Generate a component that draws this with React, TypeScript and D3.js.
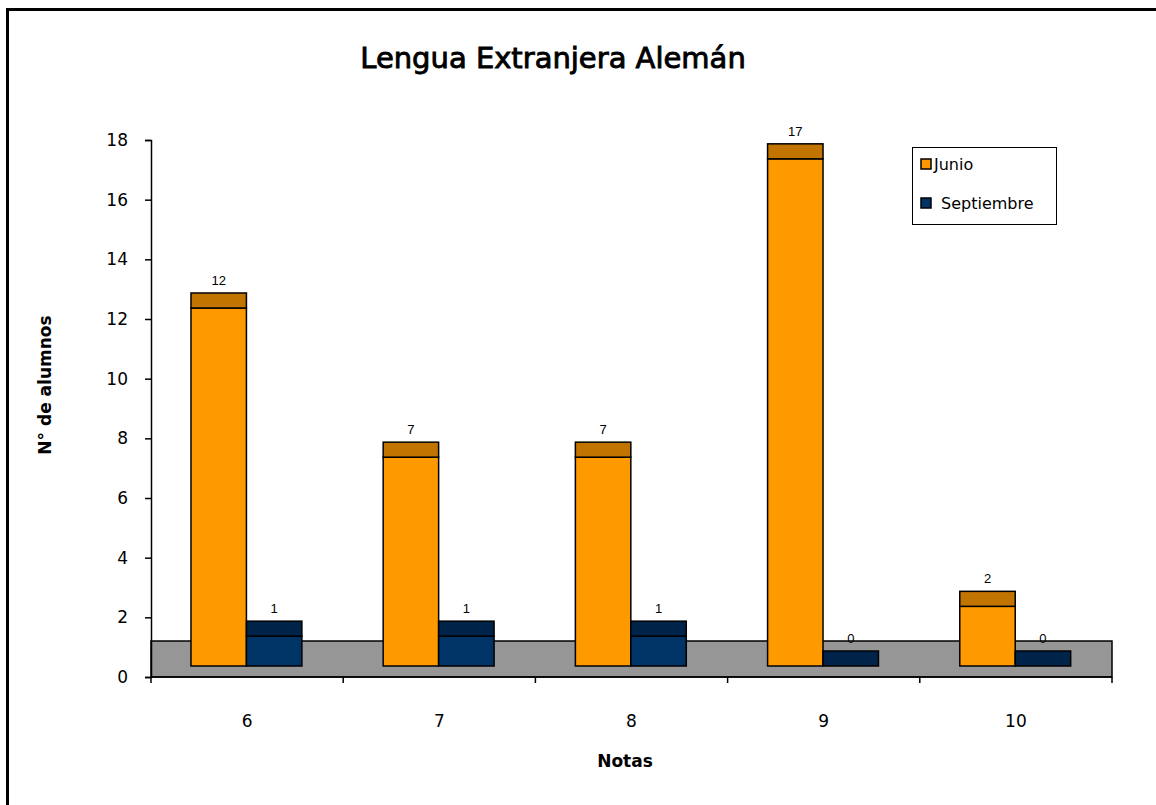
import { useRef, useEffect } from "react";
import * as d3 from "d3";

const categories = ["6", "7", "8", "9", "10"];
const series = ["Junio", "Septiembre"];
const junio = [12, 7, 7, 17, 2];
const septiembre = [1, 1, 1, 0, 0];
const yTicks = [0, 2, 4, 6, 8, 10, 12, 14, 16, 18];

const frontColors = ["#FF9900", "#003366"];
const topColors = ["#C27400", "#00234A"];

export default function App() {
  const svgRef = useRef<SVGSVGElement>(null);

  useEffect(() => {
    if (!svgRef.current) return;
    const width = 1156;
    const height = 805;
    const svg = d3.select(svgRef.current);
    svg.selectAll("*").remove();
    svg.attr("width", width).attr("height", height);

    const font = "'DejaVu Sans', Verdana, sans-serif";

    // outer frame
    svg.append("rect").attr("x", 7.5).attr("y", 9.5).attr("width", width + 10).attr("height", height + 10)
      .attr("fill", "#fff").attr("stroke", "#000").attr("stroke-width", 3);

    const x = d3.scaleBand<string>().domain(categories).range([151, 1112]);
    const bw = x.bandwidth();
    const xInner = d3.scaleBand<string>().domain(series).range([bw * 0.208, bw * 0.785]);
    const y = d3.scaleLinear().domain([0, 18]).range([677, 140]);

    const floorTop = 641;
    const frontBase = y(0) - 11;
    const depth = 15;

    // floor
    svg.append("rect").attr("x", 151).attr("y", floorTop).attr("width", 1112 - 151).attr("height", y(0) - floorTop)
      .attr("fill", "#969696").attr("stroke", "#000").attr("stroke-width", 1.5);

    // y axis
    svg.append("g")
      .attr("transform", "translate(151,0)")
      .call(d3.axisLeft(y).tickValues(yTicks).tickSize(6).tickPadding(17).tickFormat(d3.format("d")))
      .call((g) => g.select(".domain").attr("stroke", "#000").attr("stroke-width", 1.5))
      .call((g) => g.selectAll(".tick line").attr("stroke", "#000").attr("stroke-width", 1.5))
      .call((g) => g.selectAll(".tick text").attr("font-family", font).attr("font-size", 17).attr("fill", "#000"));

    // x axis
    const xg = svg.append("g").attr("transform", `translate(0,${y(0)})`);
    xg.append("line").attr("x1", 151).attr("x2", 1112).attr("stroke", "#000").attr("stroke-width", 1.5);
    [...categories.map((c) => x(c)!), 1112].forEach((px) => {
      xg.append("line").attr("x1", px).attr("x2", px).attr("y1", 0).attr("y2", 6)
        .attr("stroke", "#000").attr("stroke-width", 1.5);
    });
    categories.forEach((c) => {
      xg.append("text").attr("x", x(c)! + bw / 2).attr("y", 50).attr("text-anchor", "middle")
        .attr("font-family", font).attr("font-size", 17).attr("fill", "#000").text(c);
    });

    // bars
    const data = [junio, septiembre];
    series.forEach((s, si) => {
      data[si].forEach((v, ci) => {
        const x0 = x(categories[ci])! + xInner(s)!;
        const w = xInner.bandwidth();
        const frontTop = frontBase - (y(0) - y(v));
        const g = svg.append("g");
        if (v > 0) {
          g.append("rect").attr("x", x0).attr("y", frontTop).attr("width", w).attr("height", frontBase - frontTop)
            .attr("fill", frontColors[si]).attr("stroke", "#000").attr("stroke-width", 1.5);
        }
        g.append("rect").attr("x", x0).attr("y", frontTop - depth).attr("width", w).attr("height", depth)
          .attr("fill", topColors[si]).attr("stroke", "#000").attr("stroke-width", 1.5);
        g.append("text").attr("x", x0 + w / 2).attr("y", frontTop - depth - 8).attr("text-anchor", "middle")
          .attr("font-family", "'Liberation Sans', Arial, sans-serif").attr("font-size", 13).attr("fill", "#000")
          .text(v);
      });
    });

    // title
    svg.append("text").attr("x", 553).attr("y", 68).attr("text-anchor", "middle")
      .attr("font-family", font).attr("font-size", 29).attr("fill", "#000")
      .attr("stroke", "#000").attr("stroke-width", 0.9)
      .text("Lengua Extranjera Alemán");

    // axis titles
    svg.append("text").attr("transform", "translate(51,385) rotate(-90)").attr("text-anchor", "middle")
      .attr("font-family", font).attr("font-weight", "bold").attr("font-size", 17).attr("fill", "#000")
      .text("N° de alumnos");
    svg.append("text").attr("x", 625).attr("y", 767).attr("text-anchor", "middle")
      .attr("font-family", font).attr("font-weight", "bold").attr("font-size", 17).attr("fill", "#000")
      .text("Notas");

    // legend
    const lg = svg.append("g").attr("transform", "translate(912,147)");
    lg.append("rect").attr("x", 0.5).attr("y", 0.5).attr("width", 144).attr("height", 77)
      .attr("fill", "#fff").attr("stroke", "#000").attr("stroke-width", 1);
    series.forEach((s, i) => {
      const cy = 17 + i * 39;
      lg.append("rect").attr("x", 9).attr("y", cy - 5).attr("width", 10).attr("height", 10)
        .attr("fill", frontColors[i]).attr("stroke", "#000").attr("stroke-width", 1.5);
      lg.append("text").attr("x", i === 0 ? 22 : 29).attr("y", cy + 6)
        .attr("font-family", font).attr("font-size", 16).attr("fill", "#000").text(s);
    });
  }, []);

  return <svg ref={svgRef} style={{ position: "absolute", left: 0, top: 0, background: "#fff" }} />;
}
